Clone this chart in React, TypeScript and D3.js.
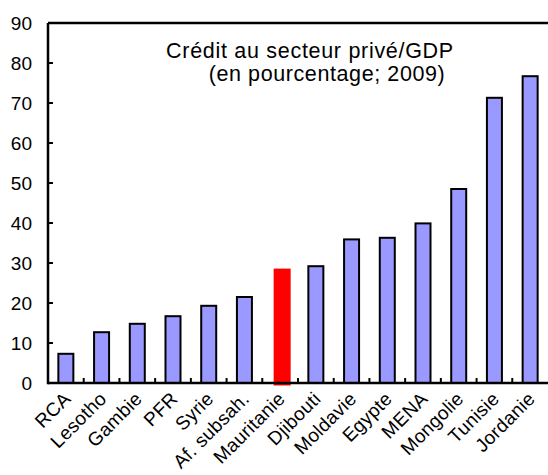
import React from 'react';
import * as d3 from 'd3';

// data
const countries = ['RCA', 'Lesotho', 'Gambie', 'PFR', 'Syrie', 'Af. subsah.', 'Mauritanie', 'Djibouti', 'Moldavie', 'Egypte', 'MENA', 'Mongolie', 'Tunisie', 'Jordanie'];
const credit = [7.3, 12.7, 14.8, 16.7, 19.3, 21.5, 28.6, 29.2, 35.9, 36.3, 39.9, 48.5, 71.3, 76.7];
const highlight = 'Mauritanie';
const yTicks = [0, 10, 20, 30, 40, 50, 60, 70, 80, 90];
const titleLines = ['Crédit au secteur privé/GDP', '(en pourcentage; 2009)'];

const width = 548;
const height = 475;
const margin = { top: 23, right: 0, bottom: 92, left: 48 };
const font = 'Arial, "Liberation Sans", sans-serif';

export default function App() {
  const x = d3.scaleBand().domain(countries).range([margin.left, width - margin.right]);
  const y = d3.scaleLinear().domain([0, 90]).range([height - margin.bottom, margin.top]);
  const bw = x.bandwidth() * 0.42;
  const y0 = y(0);

  // tick positions at band boundaries
  const bounds = countries.slice(1).map(c => x(c)!);

  return (
    <svg width={width} height={height} style={{ position: 'absolute', left: 0, top: 0, background: '#fff' }} fontFamily={font}>
      {countries.map((c, i) => {
        const cx = x(c)! + x.bandwidth() / 2;
        if (c === highlight) {
          const w = bw + 2;
          return <rect key={c} x={cx - w / 2 + 2} y={y(credit[i])} width={w} height={y0 - y(credit[i]) + 2.5} fill="#ff0000" />;
        }
        return (
          <rect key={c} x={cx - bw / 2} y={y(credit[i])} width={bw} height={y0 - y(credit[i])}
            fill="#9999ff" stroke="#000" strokeWidth={2} />
        );
      })}

      {/* axes */}
      <line x1={margin.left} x2={width} y1={margin.top} y2={margin.top} stroke="#000" strokeWidth={2.5} />
      <line x1={margin.left} x2={margin.left} y1={margin.top} y2={y0 + 1.2} stroke="#000" strokeWidth={2.5} />
      <line x1={margin.left} x2={width} y1={y0} y2={y0} stroke="#000" strokeWidth={2.5} />

      {yTicks.map(t => (
        <g key={t}>
          {t > 0 && t < 90 && <line x1={margin.left} x2={margin.left + 5} y1={y(t)} y2={y(t)} stroke="#000" strokeWidth={2} />}
          <text x={32} y={y(t)} dy="0.36em" textAnchor="end" fontSize={19} fill="#000">{t}</text>
        </g>
      ))}

      {bounds.map((b, i) => (
        <line key={i} x1={b} x2={b} y1={y0} y2={y0 - 5} stroke="#000" strokeWidth={2} />
      ))}

      {countries.map(c => {
        const cx = x(c)! + x.bandwidth() / 2;
        return (
          <text key={c} transform={`translate(${cx + 6},${y0 + 17}) rotate(-45)`} textAnchor="end" fontSize={19} letterSpacing={0.3} fill="#000">{c}</text>
        );
      })}

      <text x={310} y={58} textAnchor="middle" fontSize={21.5} letterSpacing={0.7} fill="#000">{titleLines[0]}</text>
      <text x={327} y={81} textAnchor="middle" fontSize={21.5} letterSpacing={0.6} fill="#000">{titleLines[1]}</text>
    </svg>
  );
}
